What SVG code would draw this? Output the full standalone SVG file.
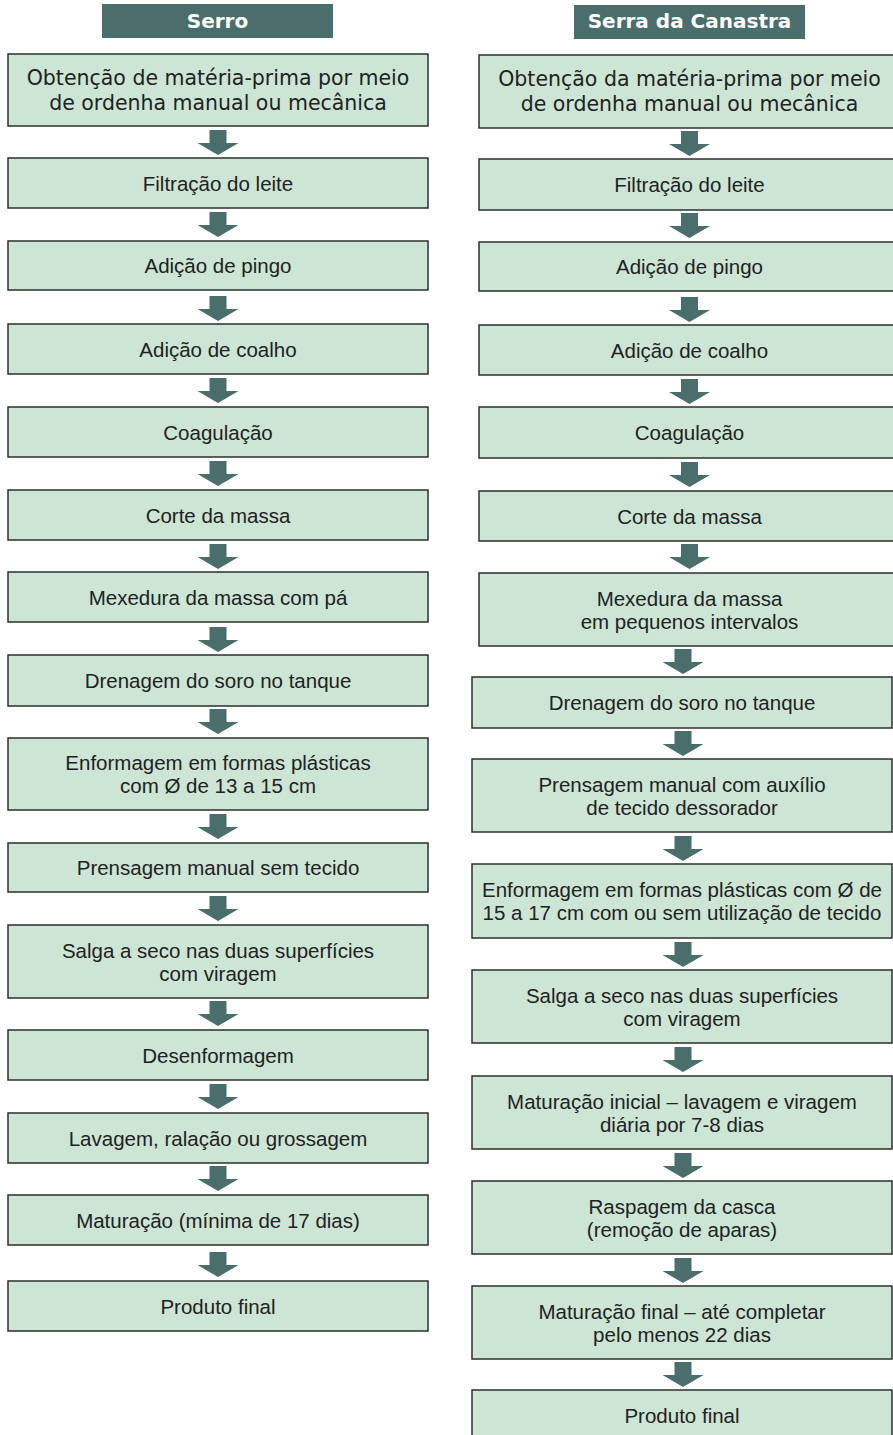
<svg xmlns="http://www.w3.org/2000/svg" xmlns:xlink="http://www.w3.org/1999/xlink" width="893" height="1435" viewBox="0 0 893 1435">
<style>
.hdr{fill:#4a6e6b}
.hdrt{fill:#ffffff;font-family:"DejaVu Sans",Verdana,sans-serif;font-weight:bold;font-size:20px;text-anchor:middle}
.box{fill:#cce5d4;stroke:#2e2e2e;stroke-width:1.5}
.t{fill:#222222;font-family:"Liberation Sans",Arial,sans-serif;font-size:20.5px;text-anchor:middle}
.tv{fill:#222222;font-family:"DejaVu Sans",Verdana,sans-serif;font-size:20.5px;text-anchor:middle}
.arr{fill:#4a6e6b}
</style>
<defs>
<path id="ar" d="M-8.5,0 H8.5 V13 H20.5 L0,25 L-20.5,13 H-8.5 Z"/>
</defs>
<rect width="893" height="1435" fill="#ffffff"/>
<g id="header-serro"><rect class="hdr" x="102" y="4" width="231" height="34"/><text class="hdrt" x="217.5" y="28">Serro</text></g>
<g id="header-canastra"><rect class="hdr" x="574" y="5" width="231" height="34"/><text class="hdrt" x="689.5" y="28">Serra da Canastra</text></g>

<g id="connectors" class="arr">
<use xlink:href="#ar" x="218" y="130"/>
<use xlink:href="#ar" x="218" y="212"/>
<use xlink:href="#ar" x="218" y="296"/>
<use xlink:href="#ar" x="218" y="378"/>
<use xlink:href="#ar" x="218" y="461"/>
<use xlink:href="#ar" x="218" y="544"/>
<use xlink:href="#ar" x="218" y="627"/>
<use xlink:href="#ar" x="218" y="709"/>
<use xlink:href="#ar" x="218" y="814"/>
<use xlink:href="#ar" x="218" y="896"/>
<use xlink:href="#ar" x="218" y="1001"/>
<use xlink:href="#ar" x="218" y="1084"/>
<use xlink:href="#ar" x="218" y="1166"/>
<use xlink:href="#ar" x="218" y="1252"/>
<use xlink:href="#ar" x="689.5" y="131"/>
<use xlink:href="#ar" x="689.5" y="213"/>
<use xlink:href="#ar" x="689.5" y="297"/>
<use xlink:href="#ar" x="689.5" y="379"/>
<use xlink:href="#ar" x="689.5" y="462"/>
<use xlink:href="#ar" x="689.5" y="544"/>
<use xlink:href="#ar" x="683" y="649"/>
<use xlink:href="#ar" x="683" y="731"/>
<use xlink:href="#ar" x="683" y="836"/>
<use xlink:href="#ar" x="683" y="942"/>
<use xlink:href="#ar" x="683" y="1047"/>
<use xlink:href="#ar" x="683" y="1153"/>
<use xlink:href="#ar" x="683" y="1258"/>
<use xlink:href="#ar" x="683" y="1362"/>
</g>

<g id="s1"><rect class="box" x="8" y="54" width="420" height="72"/><text class="tv" x="218" y="85">Obtenção de matéria-prima por meio</text><text class="tv" x="218" y="110">de ordenha manual ou mecânica</text></g>
<g id="s2"><rect class="box" x="8" y="158" width="420" height="50"/><text class="t" x="218" y="190.5">Filtração do leite</text></g>
<g id="s3"><rect class="box" x="8" y="241" width="420" height="49"/><text class="t" x="218" y="273">Adição de pingo</text></g>
<g id="s4"><rect class="box" x="8" y="324" width="420" height="50"/><text class="t" x="218" y="356.5">Adição de coalho</text></g>
<g id="s5"><rect class="box" x="8" y="407" width="420" height="50"/><text class="t" x="218" y="439.5">Coagulação</text></g>
<g id="s6"><rect class="box" x="8" y="490" width="420" height="50"/><text class="t" x="218" y="522.5">Corte da massa</text></g>
<g id="s7"><rect class="box" x="8" y="572" width="420" height="50"/><text class="t" x="218" y="604.5">Mexedura da massa com pá</text></g>
<g id="s8"><rect class="box" x="8" y="655" width="420" height="51"/><text class="t" x="218" y="688">Drenagem do soro no tanque</text></g>
<g id="s9"><rect class="box" x="8" y="738" width="420" height="72"/><text class="t" x="218" y="770">Enformagem em formas plásticas</text><text class="t" x="218" y="793">com Ø de 13 a 15 cm</text></g>
<g id="s10"><rect class="box" x="8" y="843" width="420" height="49"/><text class="t" x="218" y="875">Prensagem manual sem tecido</text></g>
<g id="s11"><rect class="box" x="8" y="925" width="420" height="73"/><text class="t" x="218" y="957.5">Salga a seco nas duas superfícies</text><text class="t" x="218" y="980.5">com viragem</text></g>
<g id="s12"><rect class="box" x="8" y="1030" width="420" height="50"/><text class="t" x="218" y="1062.5">Desenformagem</text></g>
<g id="s13"><rect class="box" x="8" y="1113" width="420" height="50"/><text class="t" x="218" y="1145.5">Lavagem, ralação ou grossagem</text></g>
<g id="s14"><rect class="box" x="8" y="1195" width="420" height="50"/><text class="t" x="218" y="1227.5">Maturação (mínima de 17 dias)</text></g>
<g id="s15"><rect class="box" x="8" y="1281" width="420" height="50"/><text class="t" x="218" y="1313.5">Produto final</text></g>

<g id="c1"><rect class="box" x="479" y="55" width="420" height="73"/><text class="tv" x="689.5" y="85.5">Obtenção da matéria-prima por meio</text><text class="tv" x="689.5" y="110.5">de ordenha manual ou mecânica</text></g>
<g id="c2"><rect class="box" x="479" y="159" width="420" height="51"/><text class="t" x="689.5" y="192">Filtração do leite</text></g>
<g id="c3"><rect class="box" x="479" y="242" width="420" height="49"/><text class="t" x="689.5" y="274">Adição de pingo</text></g>
<g id="c4"><rect class="box" x="479" y="325" width="420" height="50"/><text class="t" x="689.5" y="357.5">Adição de coalho</text></g>
<g id="c5"><rect class="box" x="479" y="407" width="420" height="51"/><text class="t" x="689.5" y="440">Coagulação</text></g>
<g id="c6"><rect class="box" x="479" y="491" width="420" height="50"/><text class="t" x="689.5" y="523.5">Corte da massa</text></g>
<g id="c7"><rect class="box" x="479" y="573" width="420" height="73"/><text class="t" x="689.5" y="605.5">Mexedura da massa</text><text class="t" x="689.5" y="628.5">em pequenos intervalos</text></g>
<g id="c8"><rect class="box" x="472" y="677" width="420" height="51"/><text class="t" x="682" y="710">Drenagem do soro no tanque</text></g>
<g id="c9"><rect class="box" x="472" y="759" width="420" height="73"/><text class="t" x="682" y="791.5">Prensagem manual com auxílio</text><text class="t" x="682" y="814.5">de tecido dessorador</text></g>
<g id="c10"><rect class="box" x="472" y="864" width="420" height="74"/><text class="t" x="682" y="897">Enformagem em formas plásticas com Ø de</text><text class="t" x="682" y="920">15 a 17 cm com ou sem utilização de tecido</text></g>
<g id="c11"><rect class="box" x="472" y="970" width="420" height="73"/><text class="t" x="682" y="1002.5">Salga a seco nas duas superfícies</text><text class="t" x="682" y="1025.5">com viragem</text></g>
<g id="c12"><rect class="box" x="472" y="1076" width="420" height="73"/><text class="t" x="682" y="1108.5">Maturação inicial – lavagem e viragem</text><text class="t" x="682" y="1131.5">diária por 7-8 dias</text></g>
<g id="c13"><rect class="box" x="472" y="1181" width="420" height="73"/><text class="t" x="682" y="1213.5">Raspagem da casca</text><text class="t" x="682" y="1236.5">(remoção de aparas)</text></g>
<g id="c14"><rect class="box" x="472" y="1286" width="420" height="73"/><text class="t" x="682" y="1318.5">Maturação final – até completar</text><text class="t" x="682" y="1341.5">pelo menos 22 dias</text></g>
<g id="c15"><rect class="box" x="472" y="1390" width="420" height="50"/><text class="t" x="682" y="1423">Produto final</text></g>
</svg>
